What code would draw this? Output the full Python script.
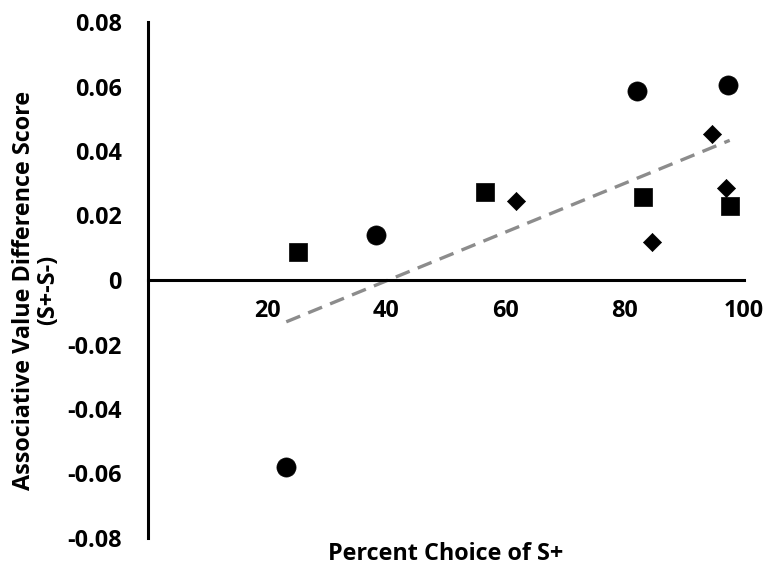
import numpy as np, pandas as pd, matplotlib.pyplot as plt, seaborn as sns

# values
circle_x = [23.2, 38.2, 82.0, 97.3]
circle_y = [-0.058, 0.0139, 0.0586, 0.0605]
square_x = [25.2, 56.6, 83.0, 97.6]
square_y = [0.0087, 0.0273, 0.0257, 0.0230]
diamond_x = [61.7, 84.5, 94.6, 97.0]
diamond_y = [0.0245, 0.0118, 0.0453, 0.0285]
xticks = [20, 40, 60, 80, 100]
yticks = [-0.08, -0.06, -0.04, -0.02, 0, 0.02, 0.04, 0.06, 0.08]
ytick_labels = ["-0.08", "-0.06", "-0.04", "-0.02", "0", "0.02", "0.04", "0.06", "0.08"]

df = pd.DataFrame({
    "x": circle_x + square_x + diamond_x,
    "y": circle_y + square_y + diamond_y,
    "grp": ["circle"] * 4 + ["square"] * 4 + ["diamond"] * 4,
})

sns.set_style("white")
plt.rcParams["font.family"] = ["Open Sans", "DejaVu Sans"]
FS = 16.8

fig = plt.figure(figsize=(7.71, 5.68), dpi=100)
ax = fig.add_axes([148 / 771, 1 - 538 / 568, 596 / 771, 516 / 568])

# dashed linear trendline over all points
sns.regplot(data=df, x="x", y="y", scatter=False, ci=None, ax=ax,
            line_kws=dict(color="#8c8c8c", lw=2.4, ls=(0, (4.5, 2.6))))

marks = {"circle": ("o", 190), "square": ("s", 185), "diamond": ("D", 85)}
for g, (m, s) in marks.items():
    sub = df[df.grp == g]
    sns.scatterplot(data=sub, x="x", y="y", marker=m, s=s, color="black",
                    edgecolor="black", linewidth=0.5, ax=ax, zorder=3)

ax.set_xlim(0, 100)
ax.set_ylim(-0.08, 0.08)
ax.set_xticks(xticks)
ax.set_yticks(yticks)
ax.set_yticklabels(ytick_labels)
for sp in ["top", "right"]:
    ax.spines[sp].set_visible(False)
ax.spines["bottom"].set_position(("data", 0))
for sp in ["left", "bottom"]:
    ax.spines[sp].set_linewidth(2.2)
    ax.spines[sp].set_color("black")
ax.tick_params(axis="both", direction="out", width=2.2, color="black",
               labelsize=FS, labelcolor="black")
ax.tick_params(axis="x", length=4.5, pad=9)
ax.tick_params(axis="y", length=7, pad=12)
for lab in ax.get_xticklabels() + ax.get_yticklabels():
    lab.set_fontweight("bold")

ax.set_xlabel("Percent Choice of S+", fontsize=FS, fontweight="bold", color="black", va="top")
ax.xaxis.set_label_coords(0.5, -0.008)
ax.set_ylabel("Associative Value Difference Score\n(S+-S-)", fontsize=FS, fontweight="bold",
              color="black", va="center", linespacing=1.0)
ax.yaxis.set_label_coords(-0.188, 0.48)

fig.savefig("out.png", dpi=100)
